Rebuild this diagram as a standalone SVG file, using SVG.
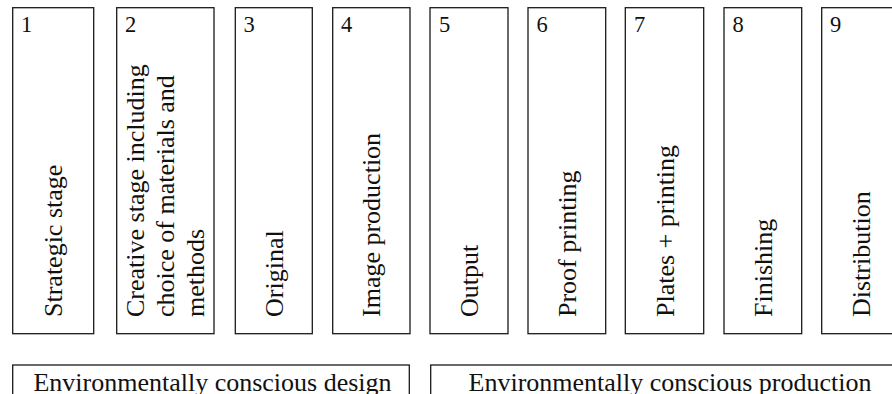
<svg xmlns="http://www.w3.org/2000/svg" width="892" height="394" viewBox="0 0 892 394">
<style>
rect{fill:#fff;stroke:#1a1a1a;stroke-width:1.3}
text{fill:#111}
.num{font-size:22.5px}
.lbl{font-size:26px}
.bar{font-size:26px;text-anchor:middle}
</style>
<rect x="0" y="0" width="892" height="394" style="stroke:none;fill:#fff"/>
<g font-family="'Liberation Serif', 'DejaVu Serif', serif">
<g id="n1"><rect x="12.7" y="7.7" width="81" height="326"/><text class="num" x="21" y="32">1</text><text class="lbl" transform="translate(62,317) rotate(-90)">Strategic stage</text></g>
<g id="n2"><rect x="116.7" y="7.7" width="97.3" height="326"/><text class="num" x="125" y="32">2</text><text class="lbl" transform="translate(144,317) rotate(-90)"><tspan x="0" y="0">Creative stage including</tspan><tspan x="0" y="30">choice of materials and</tspan><tspan x="0" y="60">methods</tspan></text></g>
<g id="n3"><rect x="235.3" y="7.7" width="77" height="326"/><text class="num" x="243.5" y="32">3</text><text class="lbl" transform="translate(282.5,317) rotate(-90)">Original</text></g>
<g id="n4"><rect x="332.7" y="7.7" width="77.3" height="326"/><text class="num" x="341" y="32">4</text><text class="lbl" transform="translate(380.2,317) rotate(-90)">Image production</text></g>
<g id="n5"><rect x="430" y="7.7" width="78" height="326"/><text class="num" x="439" y="32">5</text><text class="lbl" transform="translate(478,317) rotate(-90)">Output</text></g>
<g id="n6"><rect x="528" y="7.7" width="77.7" height="326"/><text class="num" x="536.5" y="32">6</text><text class="lbl" transform="translate(575.8,317) rotate(-90)">Proof printing</text></g>
<g id="n7"><rect x="625.3" y="7.7" width="78.4" height="326"/><text class="num" x="634" y="32">7</text><text class="lbl" transform="translate(673.5,317) rotate(-90)">Plates + printing</text></g>
<g id="n8"><rect x="724" y="7.7" width="77.7" height="326"/><text class="num" x="732.5" y="32">8</text><text class="lbl" transform="translate(771.8,317) rotate(-90)">Finishing</text></g>
<g id="n9"><rect x="821.7" y="7.7" width="78" height="326"/><text class="num" x="830" y="32">9</text><text class="lbl" transform="translate(869.7,317) rotate(-90)">Distribution</text></g>
<g id="design"><rect x="12.7" y="365" width="396.6" height="40"/><text class="bar" x="212.5" y="391">Environmentally conscious design</text></g>
<g id="production"><rect x="430.7" y="365" width="478" height="40"/><text class="bar" x="670" y="391">Environmentally conscious production</text></g>
</g>
<g id="connectors"></g>
</svg>
